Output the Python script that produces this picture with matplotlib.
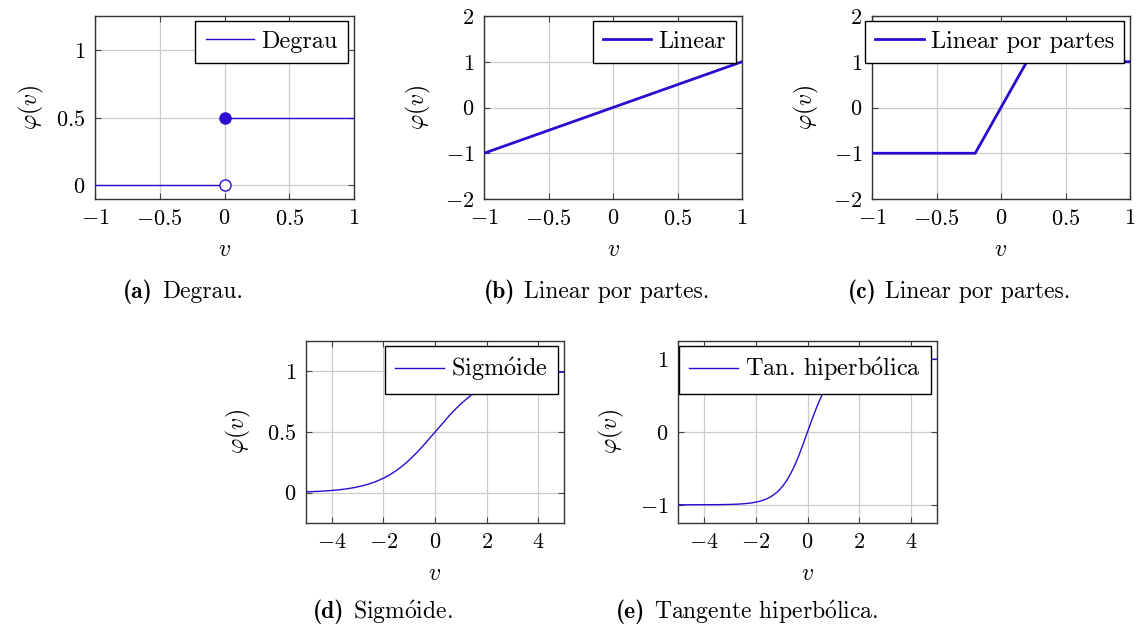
import numpy as np
import matplotlib
matplotlib.use("Agg")
import matplotlib.pyplot as plt
from matplotlib.ticker import FuncFormatter

plt.rcParams['font.family'] = ['cmr10', 'DejaVu Serif']
plt.rcParams['mathtext.fontset'] = 'cm'
plt.rcParams['axes.formatter.use_mathtext'] = True
plt.rcParams['axes.unicode_minus'] = True

# ---- data ----
step_x_neg = [-1.0, 0.0]
step_y_neg = [0.0, 0.0]
step_x_pos = [0.0, 1.0]
step_y_pos = [0.5, 0.5]
step_filled = (0.0, 0.5)
step_open = (0.0, 0.0)

linear_x = [-1.0, 1.0]
linear_y = [-1.0, 1.0]

pwl_x = [-1.0, -0.2, 0.2, 1.0]
pwl_y = [-1.0, -1.0, 1.0, 1.0]

v = np.linspace(-5, 5, 201)
sigmoid_y = 1.0 / (1.0 + np.exp(-v))
tanh_y = np.tanh(v)

legend_labels = ['Degrau', 'Linear', 'Linear por partes',
                 r'Sigm$\mathrm{\acute{o}}$ide', r'Tan. hiperb$\mathrm{\acute{o}}$lica']
caption_tags = ['(a)', '(b)', '(c)', '(d)', '(e)']
caption_texts = ['Degrau.', 'Linear por partes.', 'Linear por partes.',
                 r'Sigm$\mathrm{\acute{o}}$ide.', r'Tangente hiperb$\mathrm{\acute{o}}$lica.']

C = '#2a0cd0'
W, H = 1137, 632
fig = plt.figure(figsize=(W / 100, H / 100), dpi=100)

def add_ax(l, t, r, b):
    return fig.add_axes([l / W, 1 - b / H, (r - l) / W, (b - t) / H])

boxes = [(95, 16, 354, 199), (484, 16, 742, 199), (872, 16, 1130, 199),
         (306, 341, 564, 523), (678, 341, 937, 523)]
axes = [add_ax(*bx) for bx in boxes]

FS = 16
for ax in axes:
    ax.grid(True, color='#cccccc', lw=0.9)
    ax.set_axisbelow(True)
    ax.tick_params(direction='in', top=True, right=True, labelsize=FS, length=4,
                   width=0.8, color='#444444', pad=7)
    for s in ax.spines.values():
        s.set_color('#333333')
        s.set_linewidth(1.0)

# (a)
ax = axes[0]
ax.plot(step_x_neg, step_y_neg, color=C, lw=1.0, label=legend_labels[0], zorder=3)
ax.plot(step_x_pos, step_y_pos, color=C, lw=1.0, zorder=3)
ax.plot([step_filled[0]], [step_filled[1]], 'o', ms=8, color=C, mec=C, zorder=4)
ax.plot([step_open[0]], [step_open[1]], 'o', ms=8, mfc='white', mec=C, mew=1.0, zorder=4)
ax.set_xlim(-1, 1); ax.set_ylim(-0.1, 1.25)
ax.set_xticks([-1, -0.5, 0, 0.5, 1]); ax.set_yticks([0, 0.5, 1])

# (b)
ax = axes[1]
ax.plot(linear_x, linear_y, color=C, lw=2.0, label=legend_labels[1], zorder=3)
ax.set_xlim(-1, 1); ax.set_ylim(-2, 2)
ax.set_xticks([-1, -0.5, 0, 0.5, 1]); ax.set_yticks([-2, -1, 0, 1, 2])

# (c)
ax = axes[2]
ax.plot(pwl_x, pwl_y, color=C, lw=2.0, label=legend_labels[2], zorder=3)
ax.set_xlim(-1, 1); ax.set_ylim(-2, 2)
ax.set_xticks([-1, -0.5, 0, 0.5, 1]); ax.set_yticks([-2, -1, 0, 1, 2])

# (d)
ax = axes[3]
ax.plot(v, sigmoid_y, color=C, lw=1.0, label=legend_labels[3], zorder=3)
ax.set_xlim(-5, 5); ax.set_ylim(-0.25, 1.25)
ax.set_xticks([-4, -2, 0, 2, 4]); ax.set_yticks([0, 0.5, 1])

# (e)
ax = axes[4]
ax.plot(v, tanh_y, color=C, lw=1.0, label=legend_labels[4], zorder=3)
ax.set_xlim(-5, 5); ax.set_ylim(-1.25, 1.25)
ax.set_xticks([-4, -2, 0, 2, 4]); ax.set_yticks([-1, 0, 1])

def fmt(x, pos):
    return '$%g$' % x
for ax in axes:
    ax.xaxis.set_major_formatter(FuncFormatter(fmt))
    ax.yaxis.set_major_formatter(FuncFormatter(fmt))

for ax in axes:
    leg = ax.legend(loc='upper right', bbox_to_anchor=(0.978, 0.975), fontsize=17.5,
                    frameon=True, fancybox=False, edgecolor='black', framealpha=1,
                    handlelength=2.0, handletextpad=0.3, borderpad=0.42, borderaxespad=0)
    leg.get_frame().set_linewidth(1.0)
    leg.set_zorder(5)

# axis labels
ylab_x = [31, 418, 806, 238, 611]
for ax, bx, yx in zip(axes, boxes, ylab_x):
    l, t, r, b = bx
    cx = (l + r) / 2
    fig.text(cx / W, 1 - (b + 51) / H, r'$v$', ha='center', va='center', fontsize=FS + 1)
    fig.text(yx / W, 1 - ((t + b) / 2) / H, r'$\varphi(v)$', ha='center', va='center',
             rotation=90, fontsize=FS + 1)

# captions: bold tag + normal text, centred as a whole
cap_pos = [(183, 292), (597, 292), (959, 292), (383, 612), (747, 612)]
CFS = 17
fig.canvas.draw()
renderer = fig.canvas.get_renderer()
gap = 9
for tag, txt, (cx, cy) in zip(caption_tags, caption_texts, cap_pos):
    t1 = fig.text(0, 1 - cy / H, tag, family='cmb10', fontsize=CFS, ha='left', va='center')
    t2 = fig.text(0, 1 - cy / H, txt, fontsize=CFS, ha='left', va='center')
    w1 = t1.get_window_extent(renderer).width
    w2 = t2.get_window_extent(renderer).width
    x0 = cx - (w1 + gap + w2) / 2
    t1.set_x(x0 / W)
    t2.set_x((x0 + w1 + gap) / W)

fig.savefig('out.png', dpi=100)
